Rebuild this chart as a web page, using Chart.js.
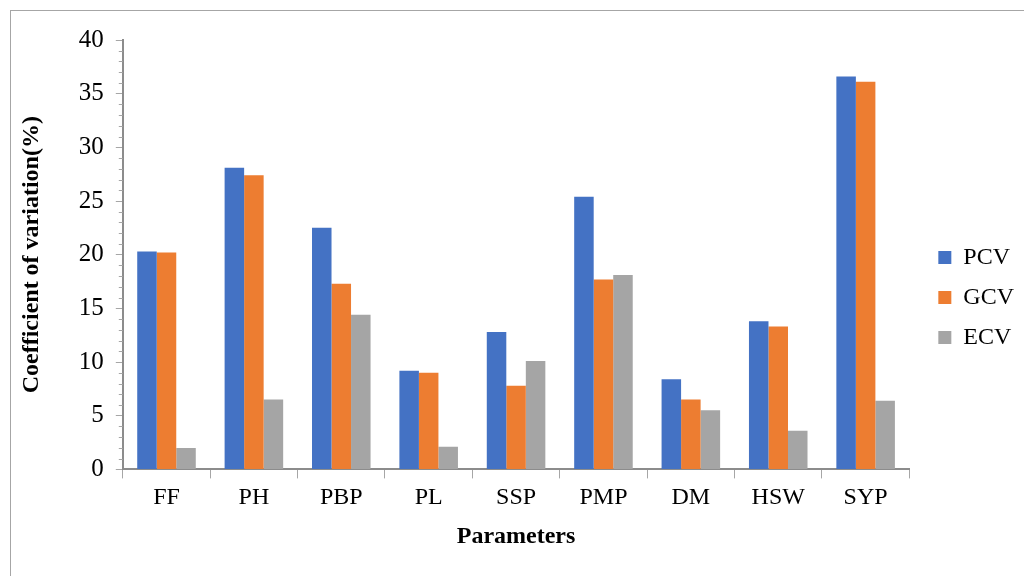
<!DOCTYPE html>
<html>
<head>
<meta charset="utf-8">
<script src="https://cdn.jsdelivr.net/npm/chart.js@4.4.1/dist/chart.umd.min.js"></script>
<style>
    html, body { margin: 0; padding: 0; background: #fff; overflow: hidden; }
    #wrap { position: relative; width: 1024px; height: 576px; }
    #frame { position: absolute; left: 10px; top: 10px; width: 1100px; height: 700px; border: 1px solid #a6a6a6; }
    #chart { position: absolute; left: 0; top: 0; }
</style>
</head>
<body>
<div id="wrap">
    <div id="frame"></div>
    <canvas id="chart" width="1024" height="576"></canvas>
</div>
<script>
const parameters = ['FF', 'PH', 'PBP', 'PL', 'SSP', 'PMP', 'DM', 'HSW', 'SYP'];
const pcv = [20.3, 28.1, 22.5, 9.2, 12.8, 25.4, 8.4, 13.8, 36.6];
const gcv = [20.2, 27.4, 17.3, 9.0, 7.8, 17.7, 6.5, 13.3, 36.1];
const ecv = [2.0, 6.5, 14.4, 2.1, 10.1, 18.1, 5.5, 3.6, 6.4];

const serif = '"Liberation Serif", "Times New Roman", serif';

// small minor ticks on the value axis, one per unit
const minorTicks = {
    id: 'minorTicks',
    afterDraw(chart) {
        const y = chart.scales.y;
        const ctx = chart.ctx;
        ctx.save();
        ctx.strokeStyle = '#a6a6a6';
        ctx.lineWidth = 1;
        for (let v = 0; v <= 40; v++) {
            if (v % 5 === 0) continue;
            const py = Math.round(y.getPixelForValue(v)) + 0.5;
            ctx.beginPath();
            ctx.moveTo(y.right - 4, py);
            ctx.lineTo(y.right, py);
            ctx.stroke();
        }
        ctx.restore();
    }
};

new Chart(document.getElementById('chart').getContext('2d'), {
    type: 'bar',
    data: {
        labels: parameters,
        datasets: [
            { label: 'PCV', data: pcv, backgroundColor: '#4472c4' },
            { label: 'GCV', data: gcv, backgroundColor: '#ed7d31' },
            { label: 'ECV', data: ecv, backgroundColor: '#a5a5a5' }
        ]
    },
    options: {
        responsive: false,
        animation: false,
        layout: { padding: { left: 13, top: 40, right: 0, bottom: 21 } },
        datasets: {
            bar: { categoryPercentage: 0.67, barPercentage: 1.0, borderWidth: 0 }
        },
        scales: {
            x: {
                grid: { offset: true, drawOnChartArea: false, tickLength: 9, tickColor: '#a6a6a6' },
                border: { color: '#8c8c8c', width: 2 },
                ticks: { color: '#000', font: { family: serif, size: 24 }, padding: 5 },
                title: { display: true, text: 'Parameters', color: '#000', font: { family: serif, size: 24, weight: 'bold' }, padding: { top: 5 } }
            },
            y: {
                min: 0,
                max: 40,
                ticks: { stepSize: 5, color: '#000', font: { family: serif, size: 25 }, padding: 12 },
                grid: { drawOnChartArea: false, tickLength: 7, tickColor: '#a6a6a6' },
                border: { color: '#8c8c8c', width: 2 },
                title: { display: true, text: 'Coefficient of variation(%)', color: '#000', font: { family: serif, size: 24, weight: 'bold' }, padding: { bottom: 21 } }
            },
            // empty spacer between the plot and the legend
            gap: {
                position: 'right',
                grid: { display: false },
                border: { display: false },
                ticks: { display: false },
                afterFit(scale) { scale.width = 13; }
            }
        },
        plugins: {
            legend: {
                position: 'right',
                labels: {
                    color: '#000',
                    font: { family: serif, size: 24 },
                    boxWidth: 13,
                    boxHeight: 13,
                    padding: 16
                }
            },
            tooltip: { enabled: false }
        }
    },
    plugins: [minorTicks]
});
</script>
</body>
</html>
